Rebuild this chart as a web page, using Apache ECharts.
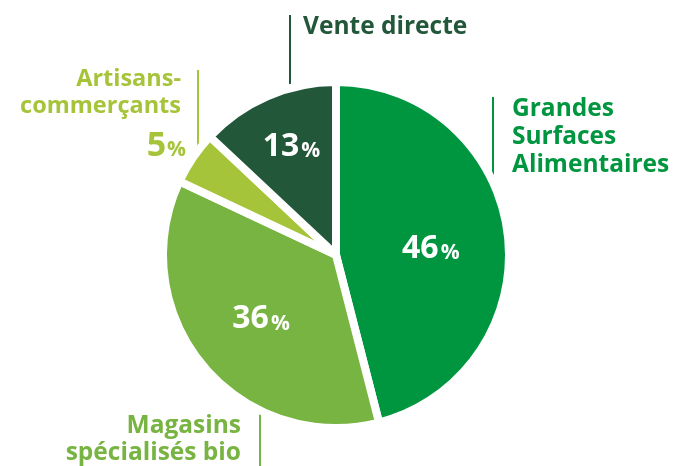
<!DOCTYPE html>
<html>
<head>
<meta charset="utf-8">
<script src="https://cdn.jsdelivr.net/npm/echarts@6/dist/echarts.min.js"></script>
<style>
html,body{margin:0;padding:0;background:#fff;}
#c{width:675px;height:466px;}
</style>
</head>
<body>
<div id="c"></div>
<script>
// Data
const categories = ['Grandes Surfaces Alimentaires', 'Magasins spécialisés bio', 'Artisans-commerçants', 'Vente directe'];
const values = [46, 36, 5, 13];
const outerLabels = ['Grandes\nSurfaces\nAlimentaires', 'Magasins\nspécialisés bio', 'Artisans-\ncommerçants', 'Vente directe'];
const colors = ['#009640', '#78b441', '#a6c439', '#22573a'];

const FONT = '"Open Sans", "Noto Sans", sans-serif';
const innerShow = [true, true, false, true];
const innerOffset = [[6, 3], [-6, 5], [0, 0], [-9, -28]];

const chart = echarts.init(document.getElementById('c'), null, {renderer: 'canvas'});

const pieData = categories.map((c, i) => ({
  name: c,
  value: values[i],
  itemStyle: {color: colors[i]},
  label: {show: innerShow[i]}
}));

const txt = (text, x, y, align, color, size, lh) => ({
  type: 'text',
  style: {
    text: text, x: x, y: y, align: align, verticalAlign: 'top',
    fill: color, font: 'bold ' + size + 'px ' + FONT, lineHeight: lh
  },
  z: 10
});
const vline = (x, y1, y2, color) => ({
  type: 'line',
  shape: {x1: x, y1: y1, x2: x, y2: y2},
  style: {stroke: color, lineWidth: 2},
  z: 1
});

const option = {
  backgroundColor: '#ffffff',
  animation: false,
  series: [{
    type: 'pie',
    center: [336, 255],
    radius: [0, 173],
    startAngle: 90,
    clockwise: true,
    avoidLabelOverlap: false,
    itemStyle: {borderColor: '#ffffff', borderWidth: 8},
    label: {
      position: 'inside',
      formatter: p => '{n|' + p.value + '}{p|%}',
      rich: {
        n: {color: '#fff', fontFamily: FONT, fontWeight: 'bold', fontSize: 32, verticalAlign: 'bottom', lineHeight: 36},
        p: {color: '#fff', fontFamily: FONT, fontWeight: 'bold', fontSize: 21, verticalAlign: 'bottom', lineHeight: 36, padding: [0, 0, 1, 2]}
      }
    },
    labelLine: {show: false},
    labelLayout: p => ({dx: innerOffset[p.dataIndex][0], dy: innerOffset[p.dataIndex][1]}),
    emphasis: {disabled: true},
    data: pieData
  }],
  graphic: [
    vline(290, 15, 92, colors[3]),
    txt(outerLabels[3], 303, 13, 'left', colors[3], 24.5, 28),
    vline(493, 97, 200, colors[0]),
    txt(outerLabels[0], 512, 95, 'left', colors[0], 24.5, 28),
    vline(198, 70, 160, colors[2]),
    txt(outerLabels[2], 181, 66, 'right', colors[2], 23.5, 27),
    {
      type: 'text',
      style: {
        text: '{n|' + values[2] + '}{p|%}', x: 186, y: 127, align: 'right', verticalAlign: 'top',
        rich: {
          n: {fill: colors[2], font: 'bold 34px ' + FONT, verticalAlign: 'bottom', lineHeight: 36},
          p: {fill: colors[2], font: 'bold 21px ' + FONT, verticalAlign: 'bottom', lineHeight: 36, padding: [0, 0, 2, 1]}
        }
      },
      z: 10
    },
    vline(260, 400, 466, colors[1]),
    txt(outerLabels[1], 241, 413, 'right', colors[1], 24.5, 27)
  ]
};
chart.setOption(option);
</script>
</body>
</html>
